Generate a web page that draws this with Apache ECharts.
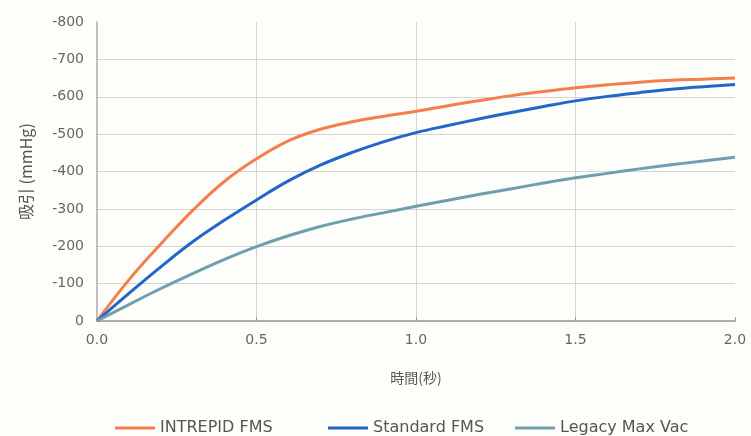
<!DOCTYPE html>
<html>
<head>
<meta charset="utf-8">
<script src="https://cdn.jsdelivr.net/npm/echarts@6/dist/echarts.min.js"></script>
<style>
html,body{margin:0;padding:0;background:#fdfdf9;}
#chart{width:751px;height:436px;}
</style>
</head>
<body>
<div id="chart"></div>
<script>
var times = [0, 0.1, 0.2, 0.3, 0.4, 0.5, 0.6, 0.7, 0.8, 0.9, 1.0, 1.1, 1.2, 1.3, 1.4, 1.5, 1.6, 1.7, 1.8, 1.9, 2.0];
var intrepid = [0, -110, -206, -296, -374, -434, -482, -513, -533, -548, -561, -576, -590, -603, -614, -624, -632, -639, -644, -647, -650];
var standard = [0, -74, -145, -212, -270, -324, -375, -417, -451, -480, -504, -523, -541, -558, -574, -589, -601, -611, -620, -627, -633];
var legacy = [0, -44, -87, -127, -165, -199, -228, -253, -273, -290, -307, -323, -339, -354, -369, -383, -395, -407, -418, -428, -438];
var seriesNames = ['INTREPID FMS', 'Standard FMS', 'Legacy Max Vac'];
var xTicks = ['0.0', '0.5', '1.0', '1.5', '2.0'];
var colors = ['#f47f4c', '#2166c8', '#6e9fae'];

function pairs(vals) { return times.map(function (t, i) { return [t, vals[i]]; }); }

var chart = echarts.init(document.getElementById('chart'));
var font = 'DejaVu Sans, sans-serif';
var cjk = 'Noto Sans CJK JP, sans-serif';
var legendLefts = [110, 323, 510];
var legends = seriesNames.map(function (n, i) {
  return {
    top: 415,
    left: legendLefts[i],
    itemWidth: 40,
    itemHeight: 3,
    icon: 'rect',
    textStyle: { color: '#555', fontSize: 16, fontFamily: font },
    data: [n]
  };
});
chart.setOption({
  backgroundColor: '#fdfdf9',
  animation: false,
  grid: { left: 97, right: 16, top: 22, bottom: 115 },
  legend: legends,
  xAxis: {
    type: 'value',
    min: 0, max: 2, interval: 0.5,
    name: '時間(秒)',
    nameLocation: 'middle',
    nameGap: 50,
    nameTextStyle: { color: '#555', fontSize: 14, fontFamily: cjk },
    axisLine: { show: true, lineStyle: { color: '#999', width: 1.5 } },
    axisTick: { show: true, length: 4, inside: true, lineStyle: { color: '#999' } },
    axisLabel: {
      color: '#666', fontSize: 14, fontFamily: font, margin: 12,
      formatter: function (v) { return xTicks[Math.round(v / 0.5)]; }
    },
    splitLine: { show: true, showMinLine: false, showMaxLine: false, lineStyle: { color: '#d4d4d4', width: 1 } }
  },
  yAxis: {
    type: 'value',
    min: -800, max: 0, interval: 100,
    inverse: true,
    name: '吸引 (mmHg)',
    nameLocation: 'middle',
    nameGap: 63,
    nameRotate: 90,
    nameTextStyle: { color: '#555', fontSize: 16, fontFamily: cjk },
    axisLine: { show: true, lineStyle: { color: '#aaa', width: 1.5 } },
    axisTick: { show: false },
    axisLabel: { color: '#666', fontSize: 14, fontFamily: font, margin: 13 },
    splitLine: { show: true, showMinLine: false, lineStyle: { color: '#d4d4d4', width: 1 } }
  },
  series: [
    { name: seriesNames[0], type: 'line', smooth: 0.4, showSymbol: false, data: pairs(intrepid),
      lineStyle: { color: colors[0], width: 3 }, itemStyle: { color: colors[0] } },
    { name: seriesNames[1], type: 'line', smooth: 0.4, showSymbol: false, data: pairs(standard),
      lineStyle: { color: colors[1], width: 3 }, itemStyle: { color: colors[1] } },
    { name: seriesNames[2], type: 'line', smooth: 0.4, showSymbol: false, data: pairs(legacy),
      lineStyle: { color: colors[2], width: 3 }, itemStyle: { color: colors[2] } }
  ]
});
</script>
</body>
</html>
